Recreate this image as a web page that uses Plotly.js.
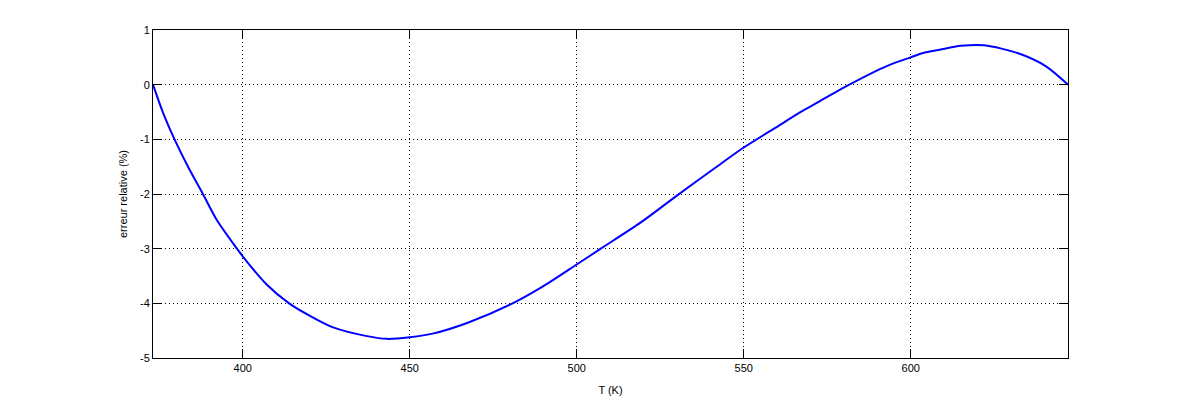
<!DOCTYPE html>
<html>
<head>
<meta charset="utf-8">
<script src="https://cdn.plot.ly/plotly-3.0.1.min.js"></script>
<style>html,body{margin:0;padding:0;background:#fff;}#chart{width:1180px;height:402px;}</style>
</head>
<body>
<div id="chart"></div>
<script>
// Temperature (K)
var temperatureK = [373.15, 376.2, 379.6, 383.8, 388.1, 392.3, 398.3, 400, 407.1, 413.9, 419.9, 427.1, 437.2, 443.2, 450, 457.2, 467.2, 480.2, 489.9, 500, 507.2, 519.2, 530.2, 541.3, 550, 560.8, 566.7, 572, 581.6, 592.8, 600, 603.7, 608.7, 615, 622, 632.4, 640.4, 647.1];
// Relative error (%)
var relativeErrorPct = [0, -0.52, -1.0, -1.52, -2.0, -2.48, -3.0, -3.14, -3.65, -4.0, -4.22, -4.44, -4.60, -4.65, -4.62, -4.55, -4.36, -4.02, -3.69, -3.29, -3.0, -2.52, -2.02, -1.53, -1.15, -0.74, -0.51, -0.33, 0, 0.34, 0.50, 0.58, 0.64, 0.71, 0.72, 0.57, 0.34, 0];
var xTicks = [400, 450, 500, 550, 600];
var yTicks = [-5, -4, -3, -2, -1, 0, 1];

var font = {family: 'Liberation Sans, Arial, sans-serif', size: 11, color: '#000'};
var axisCommon = {
  showline: true, linecolor: '#000', linewidth: 1, mirror: 'ticks',
  ticks: 'inside', ticklen: 9, tickwidth: 1, tickcolor: '#000',
  showgrid: true, gridcolor: '#000', gridwidth: 1, griddash: '1px,3px',
  zeroline: false, tickfont: font, fixedrange: true
};
var layout = {
  width: 1180, height: 402,
  paper_bgcolor: '#fff', plot_bgcolor: '#fff',
  margin: {l: 153, r: 112, t: 30, b: 44},
  showlegend: false,
  font: font,
  xaxis: Object.assign({}, axisCommon, {
    range: [373.15, 647.1], tickmode: 'array', tickvals: xTicks,
    ticktext: xTicks.map(String),
    title: {text: 'T (K)', font: font, standoff: 13}
  }),
  yaxis: Object.assign({}, axisCommon, {
    range: [-5, 1], tickmode: 'array', tickvals: yTicks,
    ticktext: yTicks.map(String),
    title: {text: 'erreur relative (%)', font: font, standoff: 10}
  })
};
var trace = {
  x: temperatureK, y: relativeErrorPct, type: 'scatter', mode: 'lines',
  line: {color: '#0000ff', width: 2, shape: 'spline', smoothing: 0.8},
  hoverinfo: 'skip'
};
Plotly.newPlot('chart', [trace], layout, {staticPlot: true, displayModeBar: false});
</script>
</body>
</html>
